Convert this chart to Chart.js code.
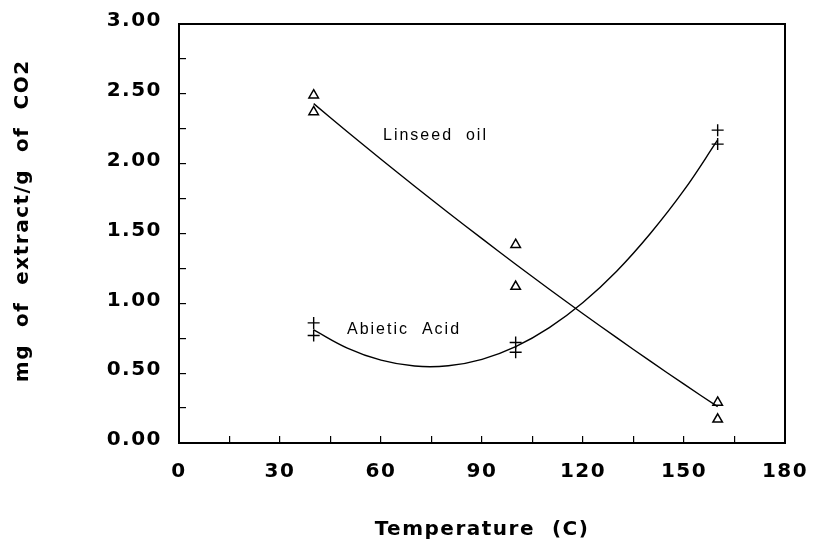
<!DOCTYPE html>
<html>
<head>
<meta charset="utf-8">
<style>
  body { margin: 0; background: #fff; }
</style>
</head>
<body>
<canvas id="extractChart" width="816" height="547"></canvas>

<script src="https://cdn.jsdelivr.net/npm/chart.js"></script>

<script>
// measured points (two runs per temperature)
const obsTemps = [40, 40, 100, 100, 160, 160];
const linseedObs = [2.49, 2.37, 1.42, 1.12, 0.29, 0.17];
const abieticObs = [0.86, 0.77, 0.72, 0.65, 2.24, 2.14];

// fitted curves
const fitTemps = [40, 50, 60, 70, 80, 90, 100, 110, 120, 130, 140, 150, 160];
const linseedFit = [2.430, 2.229, 2.032, 1.838, 1.649, 1.463, 1.280, 1.101, 0.925, 0.754, 0.586, 0.421, 0.260];
const abieticFit = [0.810, 0.680, 0.593, 0.551, 0.553, 0.599, 0.690, 0.826, 1.006, 1.230, 1.500, 1.810, 2.170];

// in-plot labels: [text, x, y]
const curveLabels = [
  ['Linseed  oil', 60.6, 2.20],
  ['Abietic  Acid', 49.9, 0.81]
];

const FONT = '"Liberation Sans", Arial, sans-serif';
const AXIS_FONT = '"DejaVu Sans", "Liberation Sans", sans-serif';

function toXY(xs, ys) {
  return xs.map((x, i) => ({ x: x, y: ys[i] }));
}

// wide lettering like the original plotter font
const spacing = {
  id: 'spacing',
  beforeLayout(chart) { chart.ctx.letterSpacing = '1.5px'; },
  beforeDraw(chart) { chart.ctx.letterSpacing = '1.5px'; }
};

const frame = {
  id: 'frame',
  afterDraw(chart) {
    const { ctx, chartArea: a } = chart;
    ctx.save();
    ctx.strokeStyle = '#000';
    ctx.lineWidth = 2;
    ctx.strokeRect(a.left, a.top, a.right - a.left, a.bottom - a.top);
    ctx.restore();
  }
};

const curveText = {
  id: 'curveText',
  afterDatasetsDraw(chart) {
    const { ctx, scales } = chart;
    ctx.save();
    ctx.letterSpacing = '2px';
    ctx.font = '16px ' + FONT;
    ctx.fillStyle = '#000';
    ctx.textAlign = 'left';
    ctx.textBaseline = 'middle';
    curveLabels.forEach(([t, x, y]) => {
      ctx.fillText(t, scales.x.getPixelForValue(x), scales.y.getPixelForValue(y));
    });
    ctx.restore();
  }
};

new Chart(document.getElementById('extractChart'), {
  type: 'scatter',
  data: {
    datasets: [
      {
        label: 'Linseed oil fit',
        data: toXY(fitTemps, linseedFit),
        showLine: true,
        borderColor: '#000',
        borderWidth: 1.4,
        pointRadius: 0,
        tension: 0.3
      },
      {
        label: 'Abietic Acid fit',
        data: toXY(fitTemps, abieticFit),
        showLine: true,
        borderColor: '#000',
        borderWidth: 1.4,
        pointRadius: 0,
        tension: 0.4
      },
      {
        label: 'Linseed oil',
        data: toXY(obsTemps, linseedObs),
        pointStyle: 'triangle',
        pointRadius: 5.5,
        borderColor: '#000',
        borderWidth: 1.5,
        backgroundColor: 'rgba(0,0,0,0)'
      },
      {
        label: 'Abietic Acid',
        data: toXY(obsTemps, abieticObs),
        pointStyle: 'cross',
        pointRadius: 6,
        borderColor: '#000',
        borderWidth: 1.4
      }
    ]
  },
  options: {
    responsive: false,
    devicePixelRatio: 1,
    animation: false,
    layout: { padding: { top: 24, right: 31, left: 0, bottom: 0 } },
    plugins: {
      legend: { display: false },
      tooltip: { enabled: false }
    },
    scales: {
      x: {
        type: 'linear',
        min: 0,
        max: 180,
        afterFit(scale) {
          scale.height = 104;
          scale.paddingLeft = 0;
          scale.paddingRight = 0;
        },
        border: { display: false },
        grid: { drawOnChartArea: false, tickLength: -7, color: '#000', lineWidth: 1.2 },
        ticks: {
          stepSize: 15,
          padding: 24,
          maxRotation: 0,
          autoSkip: false,
          color: '#000',
          font: { family: AXIS_FONT, size: 20, weight: 'bold' },
          callback: v => (v % 30 === 0 ? String(v) : '')
        },
        title: {
          display: true,
          text: 'Temperature  (C)',
          color: '#000',
          font: { family: AXIS_FONT, size: 20, weight: 'bold' },
          padding: { top: 0, bottom: 5 }
        }
      },
      y: {
        type: 'linear',
        min: 0,
        max: 3,
        afterFit(scale) {
          scale.width = 179;
          scale.paddingTop = 0;
          scale.paddingBottom = 0;
        },
        border: { display: false },
        grid: { drawOnChartArea: false, tickLength: -7, color: '#000', lineWidth: 1.2 },
        ticks: {
          stepSize: 0.25,
          padding: 24,
          labelOffset: -3,
          autoSkip: false,
          color: '#000',
          font: { family: AXIS_FONT, size: 20, weight: 'bold' },
          callback: v => (Math.abs(v * 2 - Math.round(v * 2)) < 1e-6 ? v.toFixed(2) : '')
        },
        title: {
          display: true,
          text: '   mg  of  extract/g  of  CO2',
          color: '#000',
          font: { family: AXIS_FONT, size: 20, weight: 'bold' },
          padding: { top: 11, bottom: 0 }
        }
      }
    }
  },
  plugins: [spacing, frame, curveText]
});
</script>
</body>
</html>
